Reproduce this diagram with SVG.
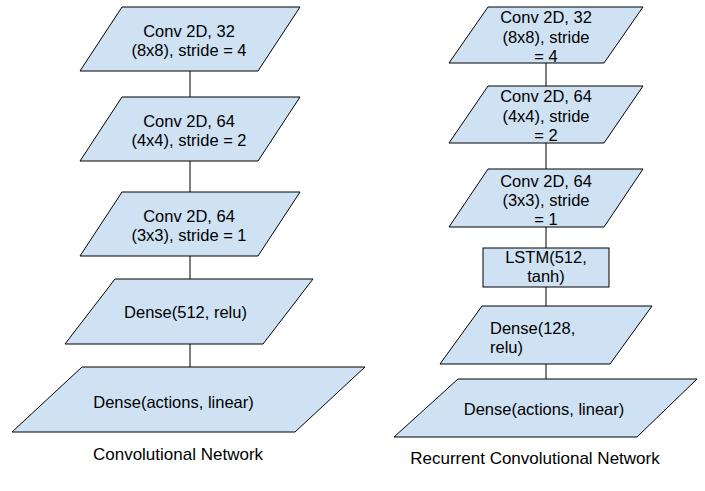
<svg xmlns="http://www.w3.org/2000/svg" width="705" height="491" viewBox="0 0 705 491">
  <style>
    .shape { fill: #cfe2f3; stroke: #000000; stroke-width: 1; }
    .conn { stroke: #000000; stroke-width: 1; fill: none; }
    text { font-family: "Liberation Sans", Arial, sans-serif; font-size: 16.5px; fill: #000000; }
    .c { text-anchor: middle; }
    .cap { font-size: 17px; }
  </style>
  <rect x="0" y="0" width="705" height="491" fill="#ffffff"/>

  <g id="connectors">
    <line class="conn" x1="190" y1="71" x2="190" y2="97"/>
    <line class="conn" x1="190" y1="161" x2="190" y2="192"/>
    <line class="conn" x1="190" y1="256" x2="190" y2="279"/>
    <line class="conn" x1="190" y1="344" x2="190" y2="367"/>
    <line class="conn" x1="546" y1="63" x2="546" y2="86"/>
    <line class="conn" x1="546" y1="143" x2="546" y2="169"/>
    <line class="conn" x1="546" y1="227" x2="546" y2="248"/>
    <line class="conn" x1="546" y1="287" x2="546" y2="306"/>
    <line class="conn" x1="546" y1="364" x2="546" y2="379"/>
  </g>

  <!-- Left: Convolutional Network -->
  <g id="conv1">
    <polygon class="shape" points="122,7 300,7 258,71 80,71"/>
    <text class="c" x="189" y="37">Conv 2D, 32</text>
    <text class="c" x="189" y="56">(8x8), stride = 4</text>
  </g>
  <g id="conv2">
    <polygon class="shape" points="122,97 300,97 258,161 80,161"/>
    <text class="c" x="189" y="126.5">Conv 2D, 64</text>
    <text class="c" x="189" y="145.5">(4x4), stride = 2</text>
  </g>
  <g id="conv3">
    <polygon class="shape" points="122,192 300,192 258,256 80,256"/>
    <text class="c" x="189" y="221.5">Conv 2D, 64</text>
    <text class="c" x="189" y="240.5">(3x3), stride = 1</text>
  </g>
  <g id="dense1">
    <polygon class="shape" points="115,279 313,279 263,344 65,344"/>
    <text class="c" x="185.5" y="318">Dense(512, relu)</text>
  </g>
  <g id="dense2">
    <polygon class="shape" points="82,367 365,367 295,432 12,432"/>
    <text class="c" x="173.5" y="407.5">Dense(actions, linear)</text>
  </g>
  <g id="caption-left">
    <text class="c cap" x="178" y="460">Convolutional Network</text>
  </g>

  <!-- Right: Recurrent Convolutional Network -->
  <g id="rconv1">
    <polygon class="shape" points="488,7 643,7 604,63 449,63"/>
    <text class="c" x="546" y="23">Conv 2D, 32</text>
    <text class="c" x="546" y="42.5">(8x8), stride</text>
    <text class="c" x="546" y="62">= 4</text>
  </g>
  <g id="rconv2">
    <polygon class="shape" points="488,86 643,86 604,143 449,143"/>
    <text class="c" x="546" y="102">Conv 2D, 64</text>
    <text class="c" x="546" y="121.5">(4x4), stride</text>
    <text class="c" x="546" y="141">= 2</text>
  </g>
  <g id="rconv3">
    <polygon class="shape" points="488,169 643,169 604,227 449,227"/>
    <text class="c" x="546" y="186.5">Conv 2D, 64</text>
    <text class="c" x="546" y="205.5">(3x3), stride</text>
    <text class="c" x="546" y="224.5">= 1</text>
  </g>
  <g id="lstm">
    <rect class="shape" x="483" y="248" width="126" height="39"/>
    <text class="c" x="546" y="263">LSTM(512,</text>
    <text class="c" x="546" y="282">tanh)</text>
  </g>
  <g id="rdense1">
    <polygon class="shape" points="482,306 652,306 610,364 440,364"/>
    <text x="490" y="334">Dense(128,</text>
    <text x="490" y="353">relu)</text>
  </g>
  <g id="rdense2">
    <polygon class="shape" points="458,379 697,379 637,437 394,437"/>
    <text class="c" x="544" y="415">Dense(actions, linear)</text>
  </g>
  <g id="caption-right">
    <text class="c cap" x="535" y="464">Recurrent Convolutional Network</text>
  </g>
</svg>
